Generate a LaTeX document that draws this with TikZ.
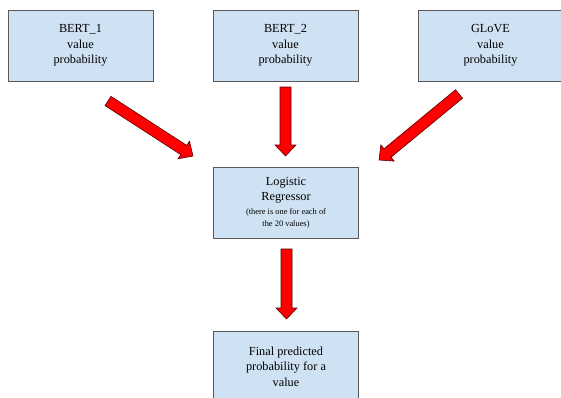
\documentclass[tikz,border=0pt]{standalone}
\usepackage{fontspec}
\setmainfont{Liberation Serif}
\usetikzlibrary{calc}

\definecolor{boxfill}{HTML}{CFE2F3}
\definecolor{boxline}{HTML}{595959}
\definecolor{arrline}{HTML}{5A0000}

\tikzset{
    box/.style={draw=boxline, fill=boxfill, line width=1pt, minimum width=145,
        minimum height=71, inner sep=0pt, align=center,
        font=\fontsize{12.3}{15.5}\selectfont},
    bigarrow/.style={draw=arrline, fill=red, line width=0.6pt, line join=miter}
}

% thick red block arrow from #1 to #2
\newcommand{\blockarrow}[2]{%
    \draw[bigarrow] let \p1=($(#2)-(#1)$), \n1={atan2(\y1,\x1)}, \n2={veclen(\x1,\y1)} in
        [shift={(#1)}, rotate=\n1]
        (0,5.5) -- (\n2-11,5.5) -- (\n2-11,10.5) -- (\n2,0)
        -- (\n2-11,-10.5) -- (\n2-11,-5.5) -- (0,-5.5) -- cycle;}

\begin{document}
\begin{tikzpicture}[x=1pt, y=-1pt]
    \useasboundingbox (0,0) rectangle (561,397);
    \clip (0,0) rectangle (561,397);

    \node[box] (bert1) at (80.5,45.5) {BERT\_1\\value\\probability};
    \node[box] (bert2) at (285.5,45.5) {BERT\_2\\value\\probability};
    \node[box] (glove) at (490.5,45.5) {GLoVE\\value\\probability};
    \node[box] (logreg) at (286,203) {Logistic\\Regressor\\[-2pt]
        {\fontsize{8.4}{10.5}\selectfont (there is one for each of}\\[-3pt]
        {\fontsize{8.4}{10.5}\selectfont the 20 values)}};
    \node[box] (final) at (286,366.5) {Final predicted\\probability for a\\value};

    \coordinate (a1s) at (108,101);
    \coordinate (a1e) at (193,156);
    \coordinate (a2s) at (285.5,87);
    \coordinate (a2e) at (285.5,156);
    \coordinate (a3s) at (459,94);
    \coordinate (a3e) at (379,160);
    \coordinate (a4s) at (286.5,249);
    \coordinate (a4e) at (286.5,319);

    \blockarrow{a1s}{a1e}
    \blockarrow{a2s}{a2e}
    \blockarrow{a3s}{a3e}
    \blockarrow{a4s}{a4e}

\end{tikzpicture}
\end{document}
